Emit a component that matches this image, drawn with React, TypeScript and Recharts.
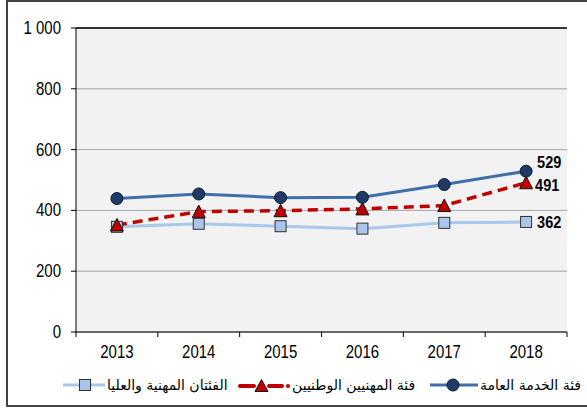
import React from 'react';
import { LineChart, Line, XAxis, YAxis, CartesianGrid, Legend, ReferenceLine, LabelList } from 'recharts';

const years = ['2013', '2014', '2015', '2016', '2017', '2018'];
const generalService = [439, 454, 442, 443, 485, 529];
const nationalOfficers = [352, 396, 399, 405, 416, 491];
const professional = [346, 356, 348, 340, 359, 362];
const yTicks = [0, 200, 400, 600, 800, 1000];

const nameGS = 'فئة الخدمة العامة';
const nameNO = 'فئة المهنيين الوطنيين';
const namePR = 'الفئتان المهنية والعليا';

const data = years.map((y, i) => ({
  year: y,
  gs: generalService[i],
  no: nationalOfficers[i],
  pr: professional[i],
}));

const C_GS = '#3f6ea8';
const C_GS_DOT = '#1f3a66';
const C_NO = '#c00000';
const C_PR = '#a9c8ec';
const C_PR_DOT = '#a9c6e8';

const NUM_FONT = '"Liberation Sans", Arial, sans-serif';
const STRETCH = 1.2;

const CircleDot = (p: any) => {
  if (p.cx == null || p.cy == null) return null;
  return <circle cx={p.cx} cy={p.cy} r={6} fill={C_GS_DOT} stroke="#0b1a33" strokeWidth={1} />;
};
const TriDot = (p: any) => {
  if (p.cx == null || p.cy == null) return null;
  const { cx, cy } = p;
  return <polygon points={`${cx},${cy - 6.5} ${cx + 6.5},${cy + 6} ${cx - 6.5},${cy + 6}`} fill={C_NO} stroke="#111" strokeWidth={1} />;
};
const SqDot = (p: any) => {
  if (p.cx == null || p.cy == null) return null;
  const { cx, cy } = p;
  return <rect x={cx - 5.5} y={cy - 5.5} width={11} height={11} fill={C_PR_DOT} stroke="#333" strokeWidth={1} />;
};

const makeLabel = (dx: number, dy: number) => (p: any) => {
  if (p.index !== years.length - 1) return null;
  return (
    <text
      transform={`translate(${p.x + dx},${p.y + dy}) scale(1,${STRETCH})`}
      dominantBaseline="central"
      fontFamily={NUM_FONT}
      fontSize={14.5}
      fontWeight="bold"
      fill="#000"
    >
      {p.value}
    </text>
  );
};

const XTick = (p: any) => {
  const { x, y, payload, index } = p;
  const off = payload && payload.offset ? payload.offset : 41;
  return (
    <g>
      <line x1={x - off} y1={y} x2={x - off} y2={y + 5} stroke="#000" />
      {index === years.length - 1 && <line x1={x + off} y1={y} x2={x + off} y2={y + 5} stroke="#000" />}
      <text
        transform={`translate(${x},${y + 20}) scale(1,${STRETCH})`}
        textAnchor="middle"
        dominantBaseline="central"
        fontFamily={NUM_FONT}
        fontSize={15}
        fill="#000"
      >
        {payload.value}
      </text>
    </g>
  );
};

const YTick = (p: any) => {
  const { x, y, payload } = p;
  const v = payload.value;
  const label = v >= 1000 ? '1 000' : String(v);
  return (
    <text
      transform={`translate(${x},${y}) scale(1,${STRETCH})`}
      textAnchor="end"
      dominantBaseline="central"
      fontFamily={NUM_FONT}
      fontSize={15}
      fill="#000"
    >
      {label}
    </text>
  );
};

const LegendIcon = ({ kind }: { kind: string }) => {
  if (kind === 'gs') {
    return (
      <svg width={48} height={16} style={{ flex: 'none' }}>
        <line x1={0} y1={8} x2={48} y2={8} stroke={C_GS} strokeWidth={3} />
        <circle cx={23} cy={8} r={6} fill={C_GS_DOT} stroke="#0b1a33" />
      </svg>
    );
  }
  if (kind === 'no') {
    return (
      <svg width={52} height={16} style={{ flex: 'none' }}>
        <line x1={2} y1={9} x2={16} y2={9} stroke={C_NO} strokeWidth={4} strokeLinecap="round" />
        <line x1={31} y1={9} x2={44} y2={9} stroke={C_NO} strokeWidth={4} strokeLinecap="round" />
        <circle cx={50} cy={9} r={2} fill={C_NO} />
        <polygon points="23.5,2.5 30,14.5 17,14.5" fill={C_NO} stroke="#111" />
      </svg>
    );
  }
  return (
    <svg width={42} height={16} style={{ flex: 'none' }}>
      <line x1={0} y1={8} x2={42} y2={8} stroke={C_PR} strokeWidth={3} />
      <rect x={16.5} y={2.5} width={11} height={11} fill={C_PR_DOT} stroke="#333" />
    </svg>
  );
};

const legendItems = [
  { kind: 'pr', label: namePR, w: 175 },
  { kind: 'no', label: nameNO, w: 192 },
  { kind: 'gs', label: nameGS, w: 140 },
];

const LegendContent = () => (
  <div
    style={{
      display: 'flex',
      justifyContent: 'flex-start',
      alignItems: 'center',
      height: 40,
      paddingTop: 6,
      paddingLeft: 63,
      boxSizing: 'border-box',
      direction: 'ltr',
    }}
  >
    {legendItems.map((it) => (
      <div key={it.kind} style={{ display: 'flex', alignItems: 'center', width: it.w, flex: 'none' }}>
        <LegendIcon kind={it.kind} />
        <span style={{ fontFamily: '"DejaVu Sans", sans-serif', fontSize: 14, color: '#000', marginLeft: 2, direction: 'rtl', whiteSpace: 'nowrap' }}>
          {it.label}
        </span>
      </div>
    ))}
  </div>
);

export default function App() {
  return (
    <div style={{ position: 'absolute', left: 0, top: 0, width: 587, height: 409, overflow: 'hidden', background: '#fff' }}>
      <div
        style={{
          position: 'absolute',
          left: 6,
          top: 0,
          width: 700,
          height: 407,
          boxSizing: 'border-box',
          border: '2px solid #444',
        }}
      />
      <div style={{ position: 'absolute', left: 0, top: 0 }}>
        <LineChart width={587} height={409} data={data} margin={{ top: 28, right: 20, left: 0, bottom: 7 }}>
          <CartesianGrid vertical={false} fill="#f2f2f2" stroke="#a6a6a6" yAxisId="left" />
          <XAxis
            dataKey="year"
            scale="band"
            height={30}
            interval={0}
            tickSize={0}
            tickMargin={0}
            tickLine={false}
            tick={<XTick />}
            axisLine={{ stroke: '#000' }}
          />
          <YAxis
            yAxisId="left"
            width={76}
            domain={[0, 1000]}
            ticks={yTicks}
            interval={0}
            tickSize={5}
            tickMargin={10}
            tickLine={{ stroke: '#000' }}
            axisLine={{ stroke: '#000' }}
            tick={<YTick />}
          />
          <YAxis yAxisId="right" orientation="right" width={0} domain={[0, 1000]} tick={false} tickLine={false} axisLine={{ stroke: '#8c8c8c', strokeWidth: 1.5 }} />
          <ReferenceLine yAxisId="left" y={1000} stroke="#000" strokeWidth={1.5} />
          <Legend verticalAlign="bottom" content={<LegendContent />} wrapperStyle={{ height: 40 }} />
          <Line yAxisId="left" type="linear" dataKey="pr" name={namePR} stroke={C_PR} strokeWidth={3} dot={<SqDot />} activeDot={false} isAnimationActive={false}>
            <LabelList dataKey="pr" content={makeLabel(11, 0)} />
          </Line>
          <Line yAxisId="left" type="linear" dataKey="no" name={nameNO} stroke={C_NO} strokeWidth={3.5} strokeDasharray="10 6" dot={<TriDot />} activeDot={false} isAnimationActive={false}>
            <LabelList dataKey="no" content={makeLabel(9, 2)} />
          </Line>
          <Line yAxisId="left" type="linear" dataKey="gs" name={nameGS} stroke={C_GS} strokeWidth={3} dot={<CircleDot />} activeDot={false} isAnimationActive={false}>
            <LabelList dataKey="gs" content={makeLabel(11, -9)} />
          </Line>
        </LineChart>
      </div>
    </div>
  );
}
